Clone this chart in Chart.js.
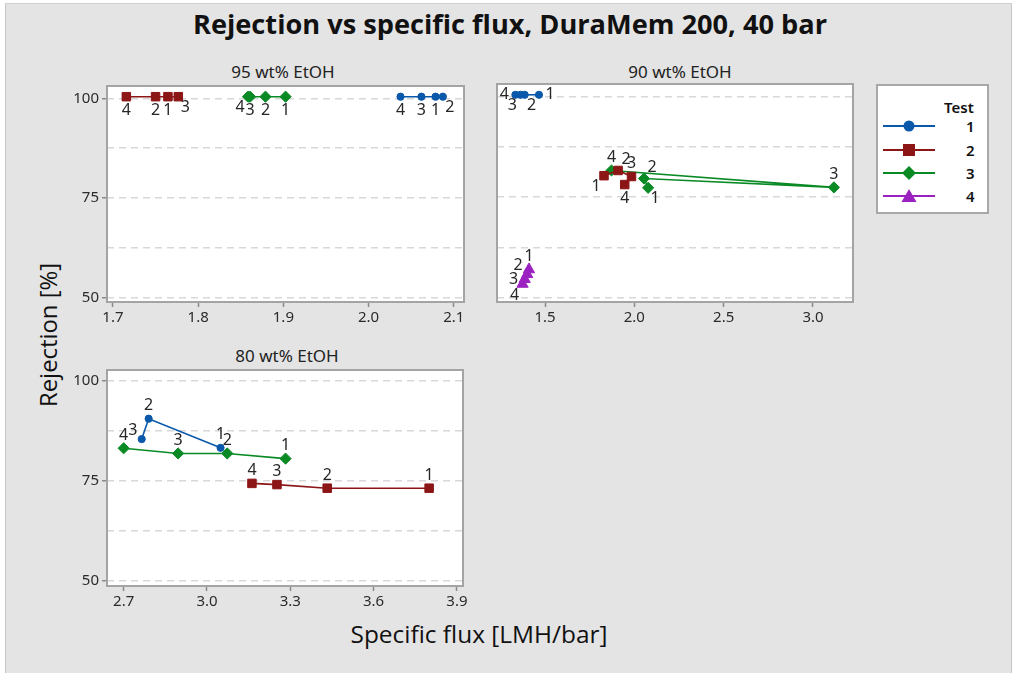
<!DOCTYPE html>
<html><head><meta charset="utf-8">
<script src="https://cdn.jsdelivr.net/npm/chart.js@4.4.1/dist/chart.umd.min.js"></script>
<style>
html,body{margin:0;padding:0;background:#fff;width:1016px;height:673px;overflow:hidden;font-family:"Open Sans",sans-serif;}
#frame{position:absolute;left:5px;top:3px;width:1007px;height:670px;background:#e4e4e4;border-left:1px solid #c6c6c6;border-top:1px solid #cfcfcf;border-right:1px solid #c6c6c6;box-sizing:border-box;}
canvas{position:absolute;}
.t{position:absolute;white-space:nowrap;color:#111;line-height:1;}
#legend{position:absolute;left:876px;top:84px;width:113px;height:130px;background:#fff;border:2px solid #a8a8a8;box-sizing:border-box;}
.lrow{position:absolute;left:0;width:109px;height:20px;}
.lrow svg{position:absolute;left:4px;top:0;}
.lrow span{position:absolute;left:88px;top:0px;font:600 15px "Noto Sans",sans-serif;color:#111;}
</style></head>
<body>
<div id="frame"></div>
<div class="t" id="title" style="font:bold 27px 'Open Sans',sans-serif;">Rejection vs specific flux, DuraMem 200, 40 bar</div>
<div class="t pt" id="pt1" style="font:17px 'Noto Sans',sans-serif;color:#222;">95 wt% EtOH</div>
<div class="t pt" id="pt2" style="font:17px 'Noto Sans',sans-serif;color:#222;">90 wt% EtOH</div>
<div class="t pt" id="pt3" style="font:17px 'Noto Sans',sans-serif;color:#222;">80 wt% EtOH</div>
<div class="t" id="xlab" style="font:23px 'Open Sans',sans-serif;">Specific flux [LMH/bar]</div>
<div class="t" id="ylab" style="font:23px 'Open Sans',sans-serif;">Rejection [%]</div>
<canvas id="c1" width="417" height="246"></canvas>
<canvas id="c2" width="376" height="246"></canvas>
<canvas id="c3" width="416" height="246"></canvas>
<div id="legend">
  <div class="t" style="left:66px;top:11px;font:600 15px 'Noto Sans',sans-serif;">Test</div>
</div>
<script>
// ---------------- DATA (run order 1..4 within each test) ----------------
const testNames = ['1', '2', '3', '4'];
const runLabels = ['1', '2', '3', '4'];

// 95 wt% EtOH
const p95_t1_x = [2.0786, 2.0872, 2.0620, 2.0375];
const p95_t1_y = [100.4, 100.4, 100.4, 100.4];
const p95_t2_x = [1.7645, 1.7500, 1.7767, 1.7157];
const p95_t2_y = [100.4, 100.4, 100.4, 100.4];
const p95_t3_x = [1.9026, 1.8790, 1.8610, 1.8585];
const p95_t3_y = [100.4, 100.4, 100.4, 100.4];

// 90 wt% EtOH
const p90_t1_x = [1.466, 1.386, 1.362, 1.334];
const p90_t1_y = [100.4, 100.4, 100.4, 100.4];
const p90_t2_x = [1.830, 1.909, 1.984, 1.946];
const p90_t2_y = [80.3, 81.6, 80.1, 78.1];
const p90_t3_x = [2.077, 2.054, 3.117, 1.872];
const p90_t3_y = [77.3, 79.6, 77.4, 81.6];
const p90_t4_x = [1.410, 1.400, 1.386, 1.374];
const p90_t4_y = [57.0, 55.8, 54.6, 53.4];

// 80 wt% EtOH
const p80_t1_x = [3.049, 2.790, 2.765];
const p80_t1_y = [83.2, 90.5, 85.4];
const p80_t2_x = [3.800, 3.433, 3.252, 3.162];
const p80_t2_y = [73.1, 73.1, 74.0, 74.3];
const p80_t3_x = [3.283, 3.073, 2.896, 2.700];
const p80_t3_y = [80.5, 81.8, 81.8, 83.1];

// tick values
const yTicks = [50, 62.5, 75, 87.5, 100];
const yLabelTicks = [50, 75, 100];
const x95Ticks = [1.7, 1.8, 1.9, 2.0, 2.1];
const x90Ticks = [1.5, 2.0, 2.5, 3.0];
const x80Ticks = [2.7, 3.0, 3.3, 3.6, 3.9];

// ---------------- STYLE ----------------
const colors = ['#0A58AA', '#8C1515', '#0A8A25', '#9B22C0'];
const pStyles = ['circle', 'rect', 'rectRot', 'triangle'];
const pRadius = [3.6, 6, 5.6, 6.5];
// label placement per point (a=above, b=below, l=left, r=right)
const pos95 = [['b','br','b','b'], ['b','b','br','b'], ['b','b','b','bl']];
const pos90 = [['r','br','bl','l'], ['bl','ar','a','b'], ['br','ar','a','a'], ['a','al','l','bl']];
const pos80 = [['a','a','al'], ['a','a','a','a'], ['a','a','a','a']];
const offs = {a:[0,-13], b:[0,14], l:[-11,0], r:[11,0], al:[-9,-9], bl:[-8,11], ar:[8,-11], br:[7,11]};

function ds(ti, xs, ys, posArr) {
  return {
    label: testNames[ti],
    data: xs.map((x, i) => ({x: x, y: ys[i]})),
    showLine: true,
    borderColor: colors[ti], backgroundColor: colors[ti],
    borderWidth: 1.6,
    pointStyle: pStyles[ti], pointRadius: pRadius[ti], pointHoverRadius: pRadius[ti],
    pointBorderWidth: 1,
    runLabels: runLabels.slice(0, xs.length),
    labelPos: posArr
  };
}

const panelPlugin = {
  id: 'panelPlugin',
  beforeDraw(chart) {
    const a = chart.chartArea, c = chart.ctx;
    c.save(); c.fillStyle = '#ffffff'; c.fillRect(a.left, a.top, a.right - a.left, a.bottom - a.top); c.restore();
  },
  afterDatasetsDraw(chart) {
    const c = chart.ctx;
    c.save();
    c.font = '16px "Noto Sans", sans-serif';
    c.fillStyle = '#262626';
    c.textAlign = 'center'; c.textBaseline = 'middle';
    chart.data.datasets.forEach((d, i) => {
      const meta = chart.getDatasetMeta(i);
      meta.data.forEach((el, j) => {
        const o = offs[d.labelPos[j]];
        c.fillText(d.runLabels[j], el.x + o[0], el.y + o[1]);
      });
    });
    c.restore();
  },
  afterDraw(chart) {
    const a = chart.chartArea, c = chart.ctx;
    c.save(); c.strokeStyle = '#a4a4a4'; c.lineWidth = 2;
    c.strokeRect(a.left, a.top, a.right - a.left, a.bottom - a.top); c.restore();
  }
};

function makePanel(id, areaL, areaT, areaW, areaH, yW, datasets, xmin, xmax, xt, ymin, ymax, showY) {
  const cv = document.getElementById(id);
  const xH = 28;
  cv.width = yW + areaW + 10; cv.height = 10 + areaH + xH;
  cv.style.left = (areaL - yW) + 'px'; cv.style.top = (areaT - 10) + 'px';
  cv.style.width = cv.width + 'px'; cv.style.height = cv.height + 'px';
  const tickFont = {family: '"Noto Sans", sans-serif', size: 15};
  return new Chart(cv, {
    type: 'scatter',
    data: {datasets: datasets},
    options: {
      responsive: false, animation: false, devicePixelRatio: 1,
      layout: {padding: {top: 10, right: 10, left: 0, bottom: 0}},
      plugins: {legend: {display: false}, tooltip: {enabled: false}},
      events: [],
      scales: {
        x: {
          type: 'linear', min: xmin, max: xmax,
          afterBuildTicks: s => { s.ticks = xt.map(v => ({value: v})); },
          afterFit: s => { s.height = xH; },
          ticks: {font: tickFont, color: '#2b2b2b', padding: 2, maxRotation: 0, autoSkip: false,
                  callback: v => v.toFixed(1)},
          grid: {drawOnChartArea: false, drawTicks: true, tickLength: 5, tickColor: '#8a8a8a', tickWidth: 1.5},
          border: {display: false}
        },
        y: {
          type: 'linear', min: ymin, max: ymax,
          afterBuildTicks: s => { s.ticks = yTicks.map(v => ({value: v})); },
          afterFit: s => { s.width = yW; },
          ticks: {display: showY, font: tickFont, color: '#2b2b2b', padding: 3,
                  callback: v => yLabelTicks.includes(v) ? String(v) : ''},
          grid: {color: '#d8d8d8', lineWidth: 1.5, drawTicks: true, tickLength: 5, tickWidth: 1.5,
                 tickColor: ctx => (showY && yLabelTicks.includes(ctx.tick.value)) ? '#8a8a8a' : 'rgba(0,0,0,0)',
                 tickBorderDash: []},
          border: {display: false, dash: [7, 5]}
        }
      }
    },
    plugins: [panelPlugin]
  });
}

makePanel('c1', 107, 84, 357, 218, 50, [
  ds(0, p95_t1_x, p95_t1_y, pos95[0]),
  ds(1, p95_t2_x, p95_t2_y, pos95[1]),
  ds(2, p95_t3_x, p95_t3_y, pos95[2])
], 1.693, 2.112, x95Ticks, 48.93, 103.08, true);

makePanel('c2', 497, 84, 356, 218, 10, [
  ds(0, p90_t1_x, p90_t1_y, pos90[0]),
  ds(1, p90_t2_x, p90_t2_y, pos90[1]),
  ds(2, p90_t3_x, p90_t3_y, pos90[2]),
  ds(3, p90_t4_x, p90_t4_y, pos90[3])
], 1.231, 3.224, x90Ticks, 48.93, 103.08, false);

makePanel('c3', 107, 368, 356, 218, 50, [
  ds(0, p80_t1_x, p80_t1_y, pos80[0]),
  ds(1, p80_t2_x, p80_t2_y, pos80[1]),
  ds(2, p80_t3_x, p80_t3_y, pos80[2])
], 2.64, 3.922, x80Ticks, 48.6, 102.7, true);

// ---------------- legend ----------------
const lg = document.getElementById('legend');
const rowY = [42, 66, 89, 112];
function markerSvg(i) {
  const c = colors[i];
  let m = '';
  if (i === 0) m = `<circle cx="27" cy="10" r="5.5" fill="${c}"/>`;
  if (i === 1) m = `<rect x="21" y="4" width="12" height="12" fill="${c}"/>`;
  if (i === 2) m = `<polygon points="27,3 34,10 27,17 20,10" fill="${c}"/>`;
  if (i === 3) m = `<polygon points="27,3 34.5,16 19.5,16" fill="${c}"/>`;
  return `<svg width="56" height="20"><line x1="1" y1="10" x2="53" y2="10" stroke="${c}" stroke-width="2"/>${m}</svg>`;
}
testNames.forEach((n, i) => {
  const r = document.createElement('div');
  r.className = 'lrow'; r.style.top = (rowY[i] - 12) + 'px';
  r.innerHTML = markerSvg(i) + `<span>${n}</span>`;
  lg.appendChild(r);
});

// ---------------- text placement ----------------
function place(id, cx, cy, targetW, rot) {
  const el = document.getElementById(id);
  const w = el.getBoundingClientRect().width;
  const k = targetW ? targetW / w : 1;
  el.style.left = cx + 'px'; el.style.top = cy + 'px';
  el.style.transformOrigin = '0 0';
  el.style.transform = (rot ? 'rotate(-90deg) ' : '') + `scaleX(${k}) translate(-50%,-50%)`;
}
place('title', 510, 23, 634);
place('pt1', 283, 71, 0);
place('pt2', 680, 71, 0);
place('pt3', 287, 355, 0);
place('xlab', 479, 634, 257);
place('ylab', 48, 335, 144, true);
</script>
</body></html>
